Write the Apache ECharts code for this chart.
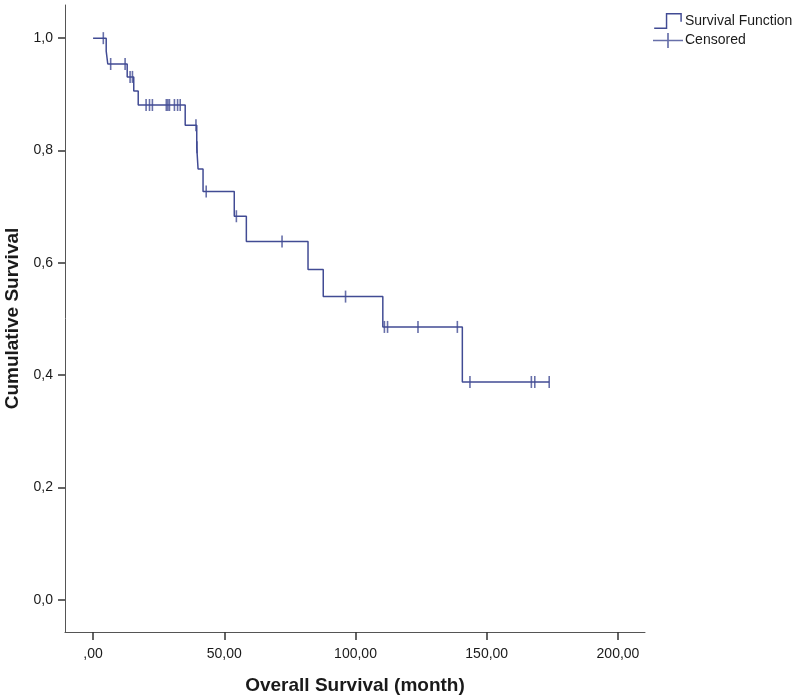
<!DOCTYPE html>
<html>
<head>
<meta charset="utf-8">
<script src="https://cdn.jsdelivr.net/npm/echarts@6/dist/echarts.min.js"></script>
<style>
  html, body { margin: 0; padding: 0; background: #fff; }
  #chart { width: 800px; height: 698px; }
</style>
</head>
<body>
<div id="chart"></div>
<script>
// step curve: time of each drop (month) and survival after it
var stepTimes = [0, 5, 5.6, 13, 15.5, 17.2, 35.1, 39.5, 40, 41.9, 53.8, 58.4, 81.9, 87.7, 110.4, 140.7, 173.8];
var stepSurv  = [1.0, 0.977, 0.954, 0.931, 0.906, 0.881, 0.845, 0.806, 0.767, 0.727, 0.683, 0.638, 0.588, 0.540, 0.486, 0.388, 0.388];

// censored cases
var censorTimes = [3.9, 6.7, 12.2, 14.1, 15, 20.2, 21.5, 22.6, 27.9, 28.5, 29.1, 31, 32.2, 33.2, 39.2, 39.6, 43.1, 54.6, 72, 96.2, 111, 112.2, 123.8, 138.8, 143.6, 167, 168.3, 173.8];
var censorSurv  = [1.0, 0.954, 0.954, 0.931, 0.931, 0.881, 0.881, 0.881, 0.881, 0.881, 0.881, 0.881, 0.881, 0.881, 0.845, 0.806, 0.727, 0.683, 0.638, 0.540, 0.486, 0.486, 0.486, 0.486, 0.388, 0.388, 0.388, 0.388];

var xTicks = [0, 50, 100, 150, 200];
var yTicks = [0, 0.2, 0.4, 0.6, 0.8, 1.0];

var lineColor = "#414b94";
var textColor = "#1a1a1a";
var axisColor = "#555555";

var chart = echarts.init(document.getElementById("chart"));

var stepData = [];
for (var i = 0; i < stepTimes.length; i++) {
  stepData.push([stepTimes[i], stepSurv[i]]);
}
var censorData = [];
for (var j = 0; j < censorTimes.length; j++) {
  censorData.push([censorTimes[j], censorSurv[j]]);
}

var stepIcon = "path://M0,22 L16,22 L16,2 L38,2 L38,14 L36,14 L36,4 L18,4 L18,24 L0,24 Z";
var censorIcon = "path://M0,11 L17,11 L17,3 L19,3 L19,11 L36,11 L36,13 L19,13 L19,21 L17,21 L17,13 L0,13 Z";

var option = {
  animation: false,
  textStyle: { fontFamily: "Liberation Sans, Arial, sans-serif" },
  grid: {
    left: 65,
    right: 155,
    top: 5,
    bottom: 66,
    containLabel: false,
    outerBoundsMode: "none",
  },
  legend: {
    orient: "vertical",
    left: 648,
    top: 8,
    itemWidth: 30,
    itemHeight: 16,
    itemGap: 4,
    textStyle: { color: textColor, fontSize: 14, padding: [0, 0, 0, -3] },
    data: [
      { name: "Survival Function", icon: stepIcon, itemStyle: { color: lineColor } },
      { name: "Censored", icon: censorIcon, itemStyle: { color: lineColor } },
    ],
  },
  xAxis: {
    type: "value",
    min: -10.7,
    max: 210.3,
    name: "Overall Survival (month)",
    nameLocation: "middle",
    nameGap: 44,
    nameTextStyle: { fontSize: 19, fontWeight: "bold", color: textColor },
    axisLine: { show: true, onZero: false, lineStyle: { color: axisColor, width: 1 } },
    axisTick: { show: true, length: 8, customValues: xTicks, lineStyle: { color: "#333", width: 1.5 } },
    axisLabel: {
      customValues: xTicks,
      margin: 15,
      fontSize: 14,
      color: textColor,
      formatter: function (v) {
        if (v === 0) return ",00";
        return v.toFixed(2).replace(".", ",");
      },
    },
    splitLine: { show: false },
  },
  yAxis: {
    type: "value",
    min: -0.057,
    max: 1.059,
    name: "Cumulative Survival",
    nameLocation: "middle",
    nameGap: 40,
    nameTextStyle: { fontSize: 19, fontWeight: "bold", color: textColor },
    axisLine: { show: true, onZero: false, lineStyle: { color: axisColor, width: 1 } },
    axisTick: { show: true, length: 7, customValues: yTicks, lineStyle: { color: "#333", width: 1.5 } },
    axisLabel: {
      customValues: yTicks,
      margin: 12,
      fontSize: 14,
      color: textColor,
      formatter: function (v) {
        return v.toFixed(1).replace(".", ",");
      },
    },
    splitLine: { show: false },
  },
  series: [
    {
      name: "Survival Function",
      type: "line",
      step: "end",
      showSymbol: false,
      symbol: "none",
      lineStyle: { color: lineColor, width: 1.5 },
      data: stepData,
    },
    {
      name: "Censored",
      type: "scatter",
      symbol: "rect",
      symbolSize: [1.6, 12],
      itemStyle: { color: lineColor },
      data: censorData,
    },
  ],
};

chart.setOption(option);
</script>
</body>
</html>
